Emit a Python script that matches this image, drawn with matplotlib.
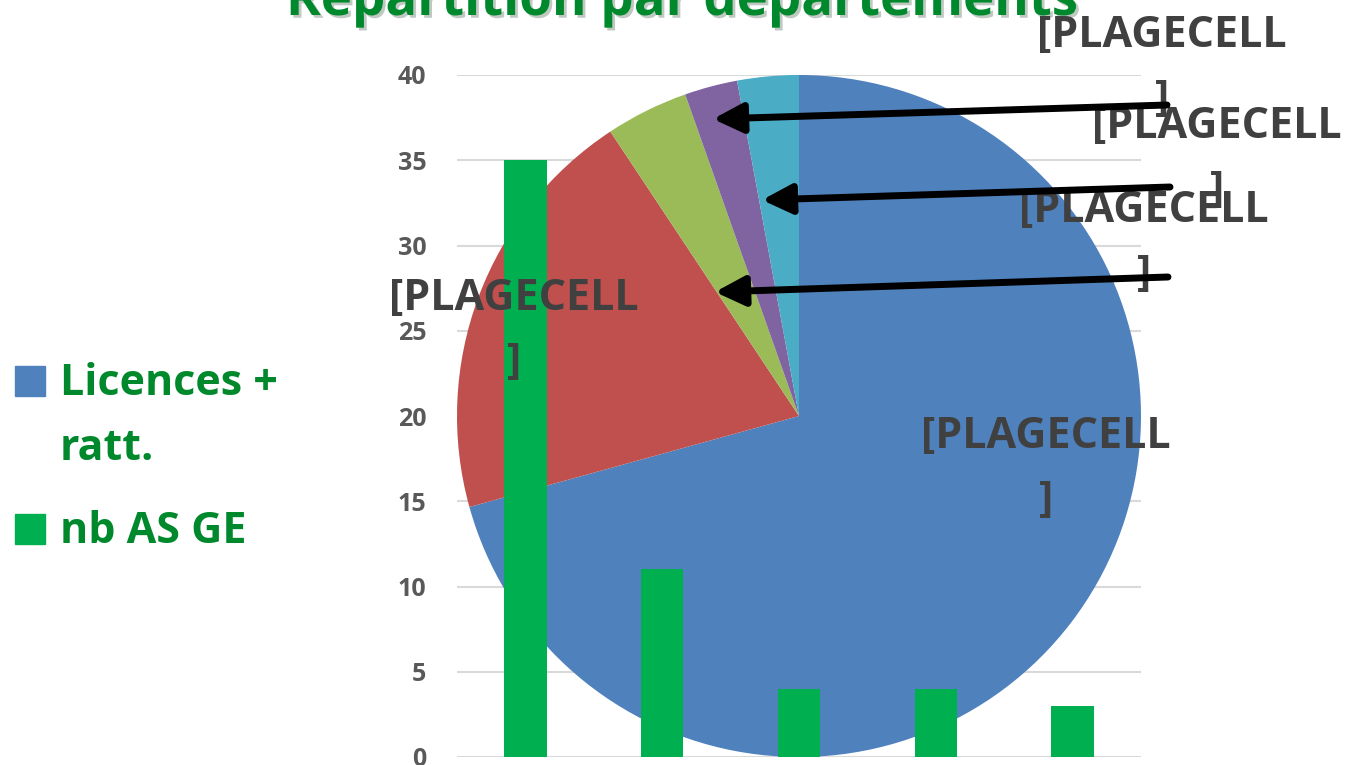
import matplotlib
matplotlib.use('Agg')
import matplotlib.pyplot as plt
from matplotlib.patches import Rectangle
import matplotlib.patheffects as pe

plt.rcParams['font.family'] = ['Open Sans', 'DejaVu Sans']

# data
pie_labels = ['Licences + ratt.', 'dept 2', 'dept 3', 'dept 4', 'dept 5']
pie_values = [70.7, 20.0, 3.9, 2.5, 2.9]
pie_colors = ['#4F81BD', '#C0504D', '#9BBB59', '#8064A2', '#4BACC6']
bar_values = [35, 11, 4, 4, 3]
y_ticks = [0, 5, 10, 15, 20, 25, 30, 35, 40]
data_label = '[PLAGECELL'

W, H = 1357, 765
GREEN_TXT = '#00892C'
LABEL_COL = '#404040'


# top-left pixel coords -> figure fraction
def px(x, y):
    return (x / W, 1 - y / H)


fig = plt.figure(figsize=(W / 100, H / 100), dpi=100)
rect = [457 / W, 8 / H, 684 / W, 682 / H]

# background axes: grid + y ticks
ax_bg = fig.add_axes(rect, zorder=0)
ax_bg.set_ylim(0, 40)
ax_bg.set_xlim(0, 5)
ax_bg.set_yticks(y_ticks)
ax_bg.set_xticks([])
ax_bg.grid(axis='y', color='#D9D9D9', linewidth=1.5)
ax_bg.set_axisbelow(True)
for s in ax_bg.spines.values():
    s.set_visible(False)
ax_bg.tick_params(axis='y', length=0, pad=22, labelsize=18, labelcolor='#595959')
for t in ax_bg.get_yticklabels():
    t.set_fontweight('bold')

# pie in the middle
ax_pie = fig.add_axes(rect, zorder=1)
ax_pie.pie(pie_values, colors=pie_colors, startangle=90, counterclock=False,
           radius=1, wedgeprops=dict(linewidth=0))
ax_pie.set_xlim(-1, 1)
ax_pie.set_ylim(-1, 1)
ax_pie.set_aspect('auto')
ax_pie.axis('off')

# bars on top
ax_bar = fig.add_axes(rect, zorder=2)
ax_bar.patch.set_visible(False)
ax_bar.bar(range(len(bar_values)), bar_values, width=0.31, color='#00B050')
ax_bar.set_xlim(-0.5, len(bar_values) - 0.5)
ax_bar.set_ylim(0, 40)
ax_bar.axis('off')

# title (cut off at the top like the reference)
fig.text(*px(682, 15), 'Répartition par départements', ha='center', va='baseline',
         fontsize=38, fontweight='bold', color=GREEN_TXT,
         path_effects=[pe.withSimplePatchShadow(offset=(2, -2), alpha=0.25)])

# data labels
label_pos = [(1162, 47), (1217, 138), (1144, 222), (514, 310), (1046, 448)]
for cx, by in label_pos:
    fig.text(*px(cx, by), data_label, ha='center', va='baseline', fontsize=31,
             fontweight='bold', color=LABEL_COL, zorder=5)
    fig.text(*px(cx, by + 64), ']', ha='center', va='baseline', fontsize=31,
             fontweight='bold', color=LABEL_COL, zorder=5)

# leader arrows
arrows = [((1167, 105), (713, 119)), ((1170, 187), (762, 200)), ((1168, 277), (715, 292))]
for tail, tip in arrows:
    fig.add_artist(plt.Annotation('', xy=px(*tip), xytext=px(*tail),
                                  xycoords='figure fraction', textcoords='figure fraction',
                                  arrowprops=dict(arrowstyle='-|>,head_length=0.9,head_width=0.45',
                                                  lw=5, color='black', mutation_scale=20,
                                                  shrinkA=0, shrinkB=0),
                                  zorder=6))

# legend
fig.add_artist(Rectangle(px(15, 396), 30 / W, 30 / H, transform=fig.transFigure,
                         color=pie_colors[0]))
fig.add_artist(Rectangle(px(15, 544), 30 / W, 30 / H, transform=fig.transFigure,
                         color='#00B050'))
fig.text(*px(60, 395), 'Licences +', ha='left', va='baseline', fontsize=31,
         fontweight='bold', color=GREEN_TXT)
fig.text(*px(60, 460), 'ratt.', ha='left', va='baseline', fontsize=31,
         fontweight='bold', color=GREEN_TXT)
fig.text(*px(60, 543), 'nb AS GE', ha='left', va='baseline', fontsize=31,
         fontweight='bold', color=GREEN_TXT)

fig.savefig('out.png', dpi=100)
